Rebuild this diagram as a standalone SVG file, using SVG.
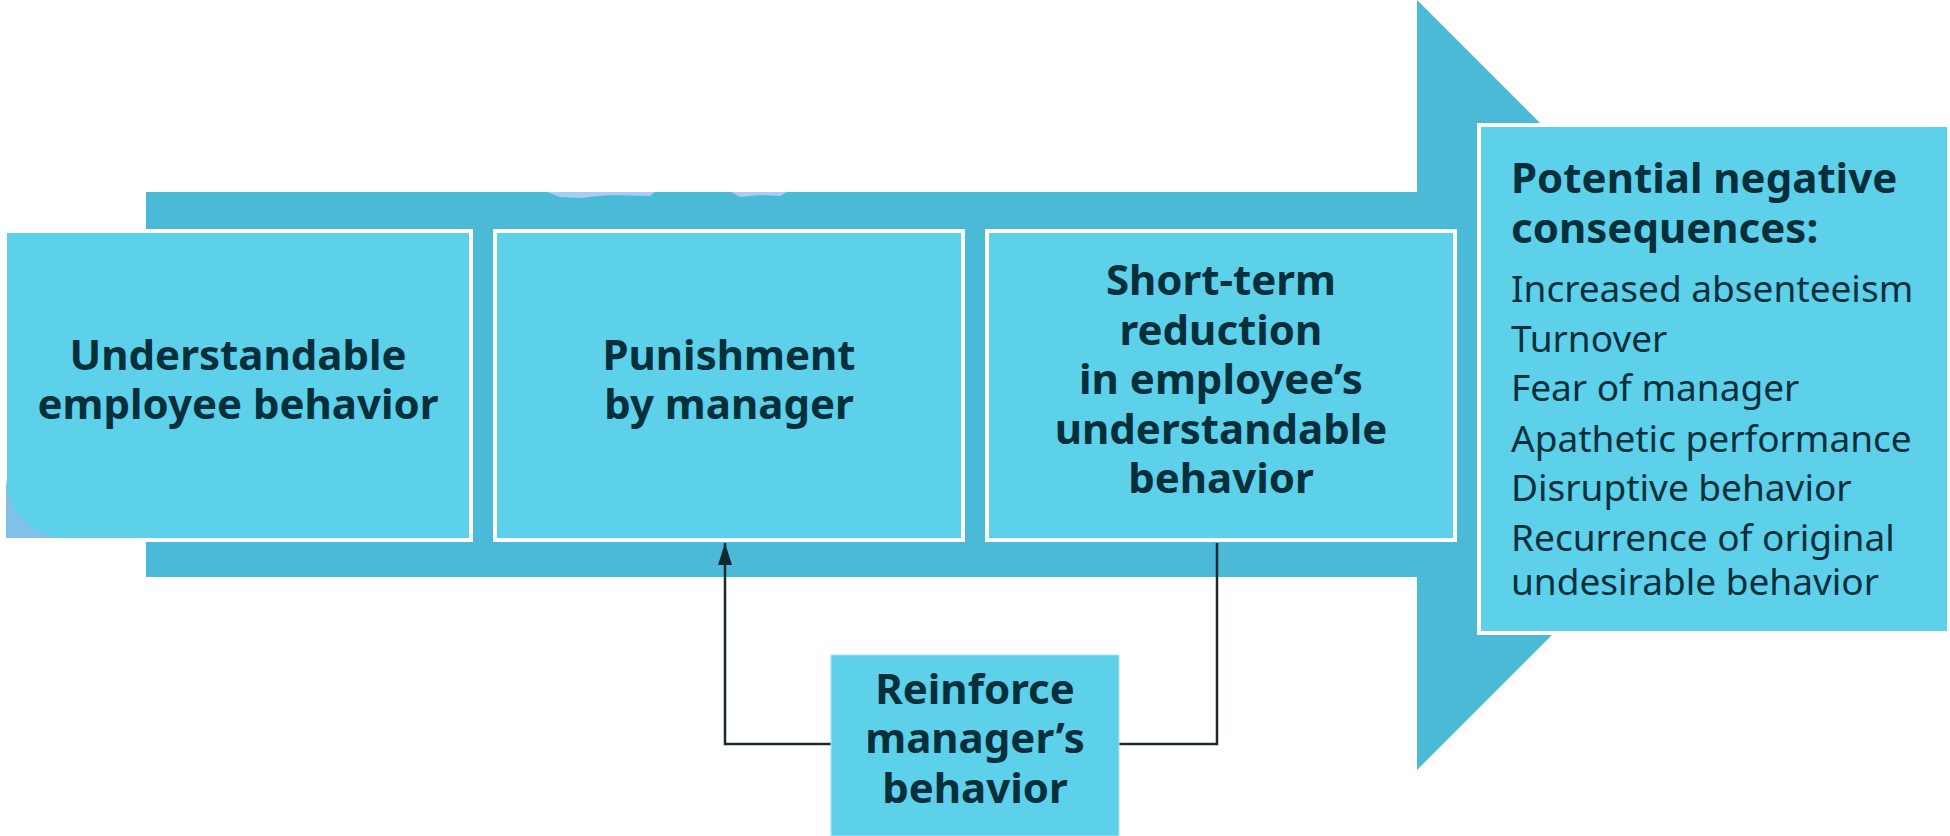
<svg xmlns="http://www.w3.org/2000/svg" width="1950" height="836" viewBox="0 0 1950 836">
  <style>
    .box { fill: #5dd0ea; stroke: #ffffff; stroke-width: 4; }
    .plain { fill: #5dd0ea; stroke: #a9e6f4; stroke-width: 1; }
    .lbl { font-family: "Noto Sans", "Open Sans", sans-serif; font-weight: 700; font-size: 42px; fill: #062f3c; text-anchor: middle; }
    .head { font-family: "Noto Sans", "Open Sans", sans-serif; font-weight: 700; font-size: 42px; fill: #062f3c; }
    .item { font-family: "Noto Sans", "Open Sans", sans-serif; font-weight: 400; font-size: 37px; fill: #062f3c; }
    .link { fill: none; stroke: #1c2a30; stroke-width: 2.5; }
  </style>
  <defs>
    <marker id="tip" markerUnits="userSpaceOnUse" markerWidth="22" markerHeight="14" refX="22" refY="7" orient="auto" viewBox="0 0 22 14">
      <path d="M0,0 L22,7 L0,14 Z" fill="#0d2a33"/>
    </marker>
  </defs>

  <rect width="1950" height="836" fill="#ffffff"/>

  <!-- big background arrow -->
  <g id="flow-arrow">
    <path d="M146,192 H1417 V0 L1802,385 L1417,770 V577 H146 Z" fill="#4bbad7"/>
    <path d="M547,192 H655 L650,196 L610,195 L580,198 L560,197 Z M731,192 H787 L780,196 L760,195 L740,197 Z" fill="#a9cdf3"/>
  </g>

  <!-- feedback connectors -->
  <g id="connectors">
    <path class="link" d="M1217,543 V744 H1119"/>
    <path class="link" d="M831,744 H725 V543" marker-end="url(#tip)"/>
  </g>

  <g id="node-behavior">
    <rect class="box" x="5" y="231" width="466" height="309"/>
    <path d="M6,474 C6,510 32,538 66,538 L6,538 Z" fill="#80c1ea"/>
    <text class="lbl" x="238" y="370">Understandable</text>
    <text class="lbl" x="238" y="419">employee behavior</text>
  </g>

  <g id="node-punishment">
    <rect class="box" x="495" y="231" width="468" height="309"/>
    <text class="lbl" x="729" y="370">Punishment</text>
    <text class="lbl" x="729" y="419">by manager</text>
  </g>

  <g id="node-reduction">
    <rect class="box" x="987" y="231" width="468" height="309"/>
    <text class="lbl" x="1221" y="295">Short-term</text>
    <text class="lbl" x="1221" y="345">reduction</text>
    <text class="lbl" x="1221" y="394">in employee’s</text>
    <text class="lbl" x="1221" y="444">understandable</text>
    <text class="lbl" x="1221" y="493">behavior</text>
  </g>

  <g id="node-consequences">
    <rect class="box" x="1479" y="125" width="470" height="508"/>
    <text class="head" x="1511" y="193">Potential negative</text>
    <text class="head" x="1511" y="243">consequences:</text>
    <text class="item" x="1511" y="302">Increased absenteeism</text>
    <text class="item" x="1511" y="352">Turnover</text>
    <text class="item" x="1511" y="401">Fear of manager</text>
    <text class="item" x="1511" y="452">Apathetic performance</text>
    <text class="item" x="1511" y="501">Disruptive behavior</text>
    <text class="item" x="1511" y="551">Recurrence of original</text>
    <text class="item" x="1511" y="595">undesirable behavior</text>
  </g>

  <g id="node-reinforce">
    <rect class="plain" x="831" y="655" width="288" height="181"/>
    <text class="lbl" x="975" y="704">Reinforce</text>
    <text class="lbl" x="975" y="753">manager’s</text>
    <text class="lbl" x="975" y="803">behavior</text>
  </g>
</svg>
